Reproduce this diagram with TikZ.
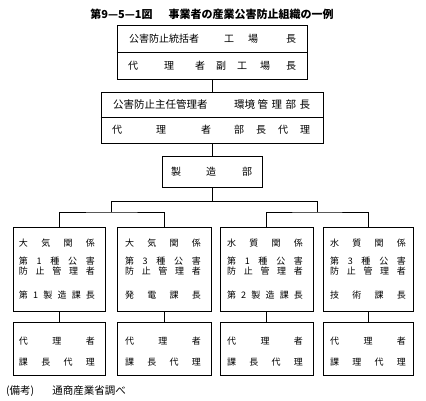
\documentclass[tikz,border=0pt]{standalone}
\usepackage{fontspec}
\setmainfont{Noto Sans CJK JP}
\tikzset{
  box/.style={draw, line width=0.7pt, inner sep=0pt, rectangle},
  conn/.style={line width=0.6pt},
  txt/.style={inner sep=0pt, font=\fontsize{10}{12}\selectfont},
  sm/.style={inner sep=0pt, font=\fontsize{9}{10}\selectfont},
}
\newcommand\spr[1]{\makebox[76pt][s]{#1}}
\begin{document}
\begin{tikzpicture}[x=1pt,y=-1pt]
\useasboundingbox (0,0) rectangle (426,400);
% title
\node[inner sep=0pt, font=\fontsize{11}{13}\selectfont\bfseries] (title) at (212,14) {第9—5—1図\hspace{16pt}事業者の産業公害防止組織の一例};
% box 1
\node[box, minimum width=190pt, minimum height=54pt] (b1) at (212,52) {};
\draw[conn] (b1.west) -- (b1.east);
\node[txt, anchor=west] (b1r1) at (129,39) {公害防止統括者\hspace{25pt}工\hspace{14pt}場\hspace{28pt}長};
\node[txt, anchor=west] (b1r2) at (128,66) {代\hspace{26pt}理\hspace{21pt}者\hspace{11pt}副\hspace{11pt}工\hspace{13pt}場\hspace{16pt}長};
% box 2
\node[box, minimum width=222pt, minimum height=51pt] (b2) at (212,117.5) {};
\draw[conn] (b2.west) -- (b2.east);
\node[inner sep=0pt, font=\fontsize{10.5}{12}\selectfont, anchor=west] (b2r1) at (113,105) {公害防止主任管理者\hspace{26.5pt}環境\hspace{2.5pt}管\hspace{3.5pt}理\hspace{3.5pt}部\hspace{3.5pt}長};
\node[txt, anchor=west] (b2r2) at (112,130) {代\hspace{34pt}理\hspace{35pt}者\hspace{23pt}部\hspace{12pt}長\hspace{12pt}代\hspace{12pt}理};
% box 3
\node[box, minimum width=100pt, minimum height=31pt] (b3) at (212,171.5) {};
\node[txt, anchor=west] (b3t) at (171,171.5) {製\hspace{25pt}造\hspace{26pt}部};
% department boxes
\node[box, minimum width=92pt, minimum height=84pt] (A) at (59,269) {};
\node[box, minimum width=94pt, minimum height=84pt] (B) at (164,269) {};
\node[box, minimum width=93pt, minimum height=84pt] (C) at (266.5,269) {};
\node[box, minimum width=90pt, minimum height=84pt] (D) at (368,269) {};
% deputy boxes
\node[box, minimum width=92pt, minimum height=53pt] (E) at (59,348.5) {};
\node[box, minimum width=94pt, minimum height=53pt] (F) at (164,348.5) {};
\node[box, minimum width=93pt, minimum height=53pt] (G) at (266.5,348.5) {};
\node[box, minimum width=90pt, minimum height=53pt] (H) at (368,348.5) {};
% texts A
\node[sm] (a1) at (57,243) {\spr{大\hfill 気\hfill 関\hfill 係}};
\node[sm] (a2) at (57,261.5) {\spr{第\hfill 1\hfill 種\hfill 公\hfill 害}};
\node[sm] (a3) at (57,271) {\spr{防\hfill 止\hfill 管\hfill 理\hfill 者}};
\node[sm] (a4) at (57,295) {\spr{第\hfill 1\hfill 製\hfill 造\hfill 課\hfill 長}};
% texts B
\node[sm] (bb1) at (163,243) {\spr{大\hfill 気\hfill 関\hfill 係}};
\node[sm] (bb2) at (163,261.5) {\spr{第\hfill 3\hfill 種\hfill 公\hfill 害}};
\node[sm] (bb3) at (163,271) {\spr{防\hfill 止\hfill 管\hfill 理\hfill 者}};
\node[sm] (bb4) at (163,295) {\spr{発\hfill 電\hfill 課\hfill 長}};
% texts C
\node[sm] (c1) at (265,243) {\spr{水\hfill 質\hfill 関\hfill 係}};
\node[sm] (c2) at (265,261.5) {\spr{第\hfill 1\hfill 種\hfill 公\hfill 害}};
\node[sm] (c3) at (265,271) {\spr{防\hfill 止\hfill 管\hfill 理\hfill 者}};
\node[sm] (c4) at (265,295) {\spr{第\hfill 2\hfill 製\hfill 造\hfill 課\hfill 長}};
% texts D
\node[sm] (d1) at (368,243) {\spr{水\hfill 質\hfill 関\hfill 係}};
\node[sm] (d2) at (368,261.5) {\spr{第\hfill 3\hfill 種\hfill 公\hfill 害}};
\node[sm] (d3) at (368,271) {\spr{防\hfill 止\hfill 管\hfill 理\hfill 者}};
\node[sm] (d4) at (368,295) {\spr{技\hfill 術\hfill 課\hfill 長}};
% deputy texts
\node[sm] (e1) at (57,341) {\spr{代\hfill 理\hfill 者}};
\node[sm] (e2) at (57,362) {\spr{課\hfill 長\hfill 代\hfill 理}};
\node[sm] (f1) at (163,341) {\spr{代\hfill 理\hfill 者}};
\node[sm] (f2) at (163,362) {\spr{課\hfill 長\hfill 代\hfill 理}};
\node[sm] (g1) at (265,341) {\spr{代\hfill 理\hfill 者}};
\node[sm] (g2) at (265,362) {\spr{課\hfill 長\hfill 代\hfill 理}};
\node[sm] (h1) at (368,341) {\spr{代\hfill 理\hfill 者}};
\node[sm] (h2) at (368,362) {\spr{課\hfill 理\hfill 代\hfill 理}};
% footer
\node[inner sep=0pt, font=\fontsize{10.5}{12}\selectfont, anchor=west] (note) at (6,391) {(備考)\hspace{18pt}通商産業省調べ};
% connectors
\coordinate (j0) at (212,201);
\coordinate (jl) at (111.5,201);
\coordinate (jr) at (317,201);
\coordinate (kl) at (111.5,212);
\coordinate (kr) at (317,212);
\draw[conn] (b1.south) -- (b2.north);
\draw[conn] (b2.south) -- (b3.north);
\draw[conn] (b3.south) -- (j0);
\draw[conn] (jl) -- (jr);
\draw[conn] (jl) -- (kl);
\draw[conn] (jr) -- (kr);
\draw[conn] (A.north) |- (kl) -| (B.north);
\draw[conn] (C.north) |- (kr) -| (D.north);
\draw[conn] (A.south) -- (E.north);
\draw[conn] (B.south) -- (F.north);
\draw[conn] (C.south) -- (G.north);
\draw[conn] (D.south) -- (H.north);
\end{tikzpicture}
\end{document}
